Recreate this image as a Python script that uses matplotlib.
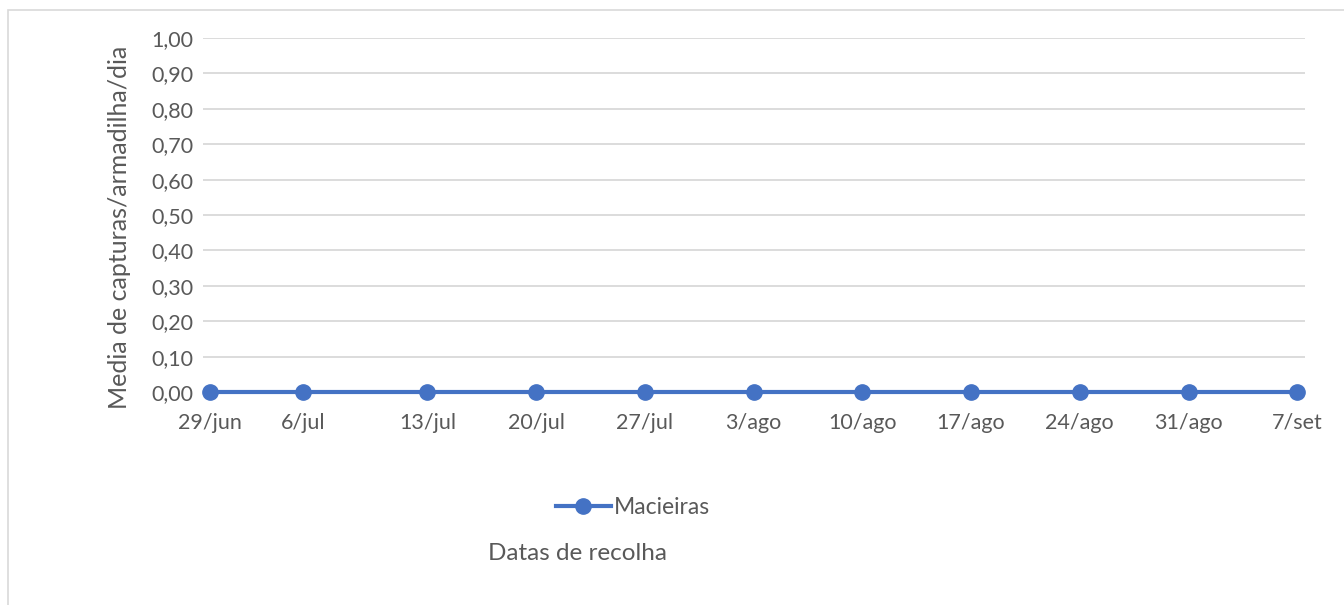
import matplotlib.pyplot as plt
from matplotlib.patches import Rectangle

# ================================ Dados =========================================

# dias desde 29/jun (posição de cada recolha no eixo)
dias = [0, 6, 14, 21, 28, 35, 42, 49, 56, 63, 70]
datas = ["29/jun", "6/jul", "13/jul", "20/jul", "27/jul", "3/ago",
         "10/ago", "17/ago", "24/ago", "31/ago", "7/set"]
macieiras = [0, 0, 0, 0, 0, 0, 0, 0, 0, 0, 0]

yticks = [0.0, 0.1, 0.2, 0.3, 0.4, 0.5, 0.6, 0.7, 0.8, 0.9, 1.0]

# ================================ Gráfico =========================================

plt.rcParams['font.family'] = ['Lato', 'DejaVu Sans']
cinza_texto = "#595959"
azul = "#4472C4"

fig = plt.figure(figsize=(13.44, 6.05), dpi=100)
ax = fig.add_axes([203 / 1344, 213 / 605, 1102 / 1344, 354 / 605])

ax.plot(dias, macieiras, color=azul, linewidth=3, marker="o",
        markersize=11, label="Macieiras", zorder=3, clip_on=False)

ax.set_xlim(-0.45, 70.5)
ax.set_ylim(0, 1.0)
ax.set_yticks(yticks)
ax.set_yticklabels([f"{v:.2f}".replace(".", ",") for v in yticks])
ax.set_xticks(dias)
ax.set_xticklabels(datas)

ax.grid(axis="y", color="#d9d9d9", linewidth=1.3)
ax.set_axisbelow(True)
for s in ax.spines.values():
    s.set_visible(False)
ax.tick_params(axis="both", length=0, labelsize=15.5, colors=cinza_texto)
ax.tick_params(axis="y", pad=7)
ax.tick_params(axis="x", pad=15)

ax.set_ylabel("Media de capturas/armadilha/dia", fontsize=18,
              color=cinza_texto)
ax.yaxis.set_label_coords(-0.065, 0.466)

# legenda e título do eixo x (abaixo da legenda)
fig.legend(loc="center", bbox_to_anchor=(633 / 1344, 1 - 508 / 605),
           frameon=False, fontsize=16.5, labelcolor=cinza_texto,
           handlelength=2.4, handletextpad=0.15, borderpad=0)
fig.text(578 / 1344, 1 - 553 / 605, "Datas de recolha", ha="center",
         va="center", fontsize=17.5, color=cinza_texto)

# moldura da área do gráfico
fig.patches.append(Rectangle((8 / 1344, -0.1), 1.2, 1 - 10 / 605 + 0.1,
                             transform=fig.transFigure, fill=False,
                             edgecolor="#d9d9d9", linewidth=1.2))

plt.savefig("out.png", dpi=100)
